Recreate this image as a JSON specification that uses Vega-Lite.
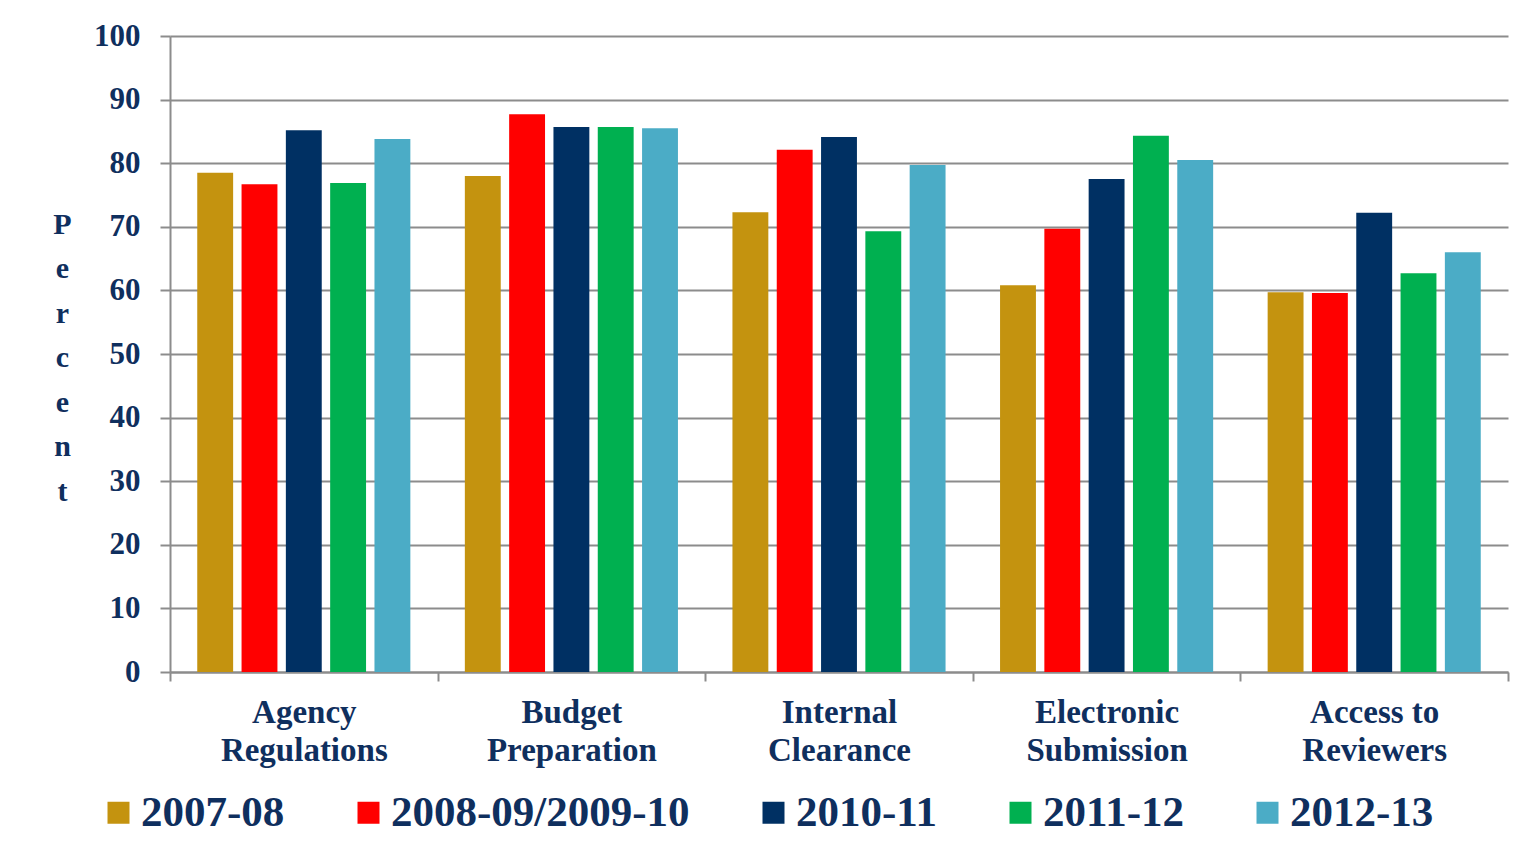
{
  "$schema": "https://vega.github.io/schema/vega-lite/v6.json",
  "width": 1338,
  "height": 636,
  "autosize": {"type": "none"},
  "padding": {"left": 170, "top": 36, "right": 19, "bottom": 190},
  "background": "white",
  "config": {
    "view": {"stroke": null},
    "font": "Liberation Serif"
  },
  "data": {
    "values": [
      {"category": "Agency Regulations", "year": "2007-08", "percent": 78.5},
      {"category": "Agency Regulations", "year": "2008-09/2009-10", "percent": 76.7},
      {"category": "Agency Regulations", "year": "2010-11", "percent": 85.2},
      {"category": "Agency Regulations", "year": "2011-12", "percent": 76.9},
      {"category": "Agency Regulations", "year": "2012-13", "percent": 83.8},
      {"category": "Budget Preparation", "year": "2007-08", "percent": 78.0},
      {"category": "Budget Preparation", "year": "2008-09/2009-10", "percent": 87.7},
      {"category": "Budget Preparation", "year": "2010-11", "percent": 85.7},
      {"category": "Budget Preparation", "year": "2011-12", "percent": 85.7},
      {"category": "Budget Preparation", "year": "2012-13", "percent": 85.5},
      {"category": "Internal Clearance", "year": "2007-08", "percent": 72.3},
      {"category": "Internal Clearance", "year": "2008-09/2009-10", "percent": 82.1},
      {"category": "Internal Clearance", "year": "2010-11", "percent": 84.1},
      {"category": "Internal Clearance", "year": "2011-12", "percent": 69.3},
      {"category": "Internal Clearance", "year": "2012-13", "percent": 79.7},
      {"category": "Electronic Submission", "year": "2007-08", "percent": 60.8},
      {"category": "Electronic Submission", "year": "2008-09/2009-10", "percent": 69.7},
      {"category": "Electronic Submission", "year": "2010-11", "percent": 77.5},
      {"category": "Electronic Submission", "year": "2011-12", "percent": 84.3},
      {"category": "Electronic Submission", "year": "2012-13", "percent": 80.5},
      {"category": "Access to Reviewers", "year": "2007-08", "percent": 59.7},
      {"category": "Access to Reviewers", "year": "2008-09/2009-10", "percent": 59.6},
      {"category": "Access to Reviewers", "year": "2010-11", "percent": 72.2},
      {"category": "Access to Reviewers", "year": "2011-12", "percent": 62.7},
      {"category": "Access to Reviewers", "year": "2012-13", "percent": 66.0}
    ]
  },
  "mark": {"type": "bar"},
  "encoding": {
    "x": {
      "field": "category",
      "type": "nominal",
      "sort": null,
      "scale": {"paddingInner": 0, "paddingOuter": 0},
      "axis": {
        "title": null,
        "labelAngle": 0,
        "labelExpr": "datum.value == null ? '' : (datum.value == 'Access to Reviewers' ? ['Access to', 'Reviewers'] : split(datum.value, ' '))",
        "labelFont": "Liberation Serif",
        "labelFontWeight": "bold",
        "labelFontSize": 33,
        "labelColor": "#0F2F5E",
        "labelLineHeight": 38,
        "labelPadding": 15,
        "labelBaseline": "top",
        "domainColor": "#8C8C8C",
        "domainWidth": 2,
        "tickColor": "#8C8C8C",
        "tickWidth": 2,
        "tickSize": 9,
        "tickBand": "extent",
        "grid": false
      }
    },
    "xOffset": {
      "field": "year",
      "type": "nominal",
      "sort": null,
      "scale": {"paddingInner": 0.19, "paddingOuter": 0.615}
    },
    "y": {
      "field": "percent",
      "type": "quantitative",
      "scale": {"domain": [0, 100]},
      "axis": {
        "values": [0, 10, 20, 30, 40, 50, 60, 70, 80, 90, 100],
        "title": ["P", "e", "r", "c", "e", "n", "t"],
        "titleAngle": 0,
        "titleFont": "Liberation Serif",
        "titleFontWeight": "bold",
        "titleFontSize": 30,
        "titleColor": "#0F2F5E",
        "titleLineHeight": 44.5,
        "titleAlign": "center",
        "titleBaseline": "middle",
        "titleX": -108,
        "titleY": 188,
        "labelFont": "Liberation Serif",
        "labelFontWeight": "bold",
        "labelFontSize": 31,
        "labelColor": "#0F2F5E",
        "labelPadding": 20,
        "domainColor": "#8C8C8C",
        "domainWidth": 2,
        "tickColor": "#8C8C8C",
        "tickWidth": 2,
        "tickSize": 10,
        "grid": true,
        "gridColor": "#8C8C8C",
        "gridWidth": 2
      }
    },
    "color": {
      "field": "year",
      "type": "nominal",
      "sort": null,
      "scale": {
        "domain": ["2007-08", "2008-09/2009-10", "2010-11", "2011-12", "2012-13"],
        "range": ["#C4930F", "#FF0000", "#003063", "#00B050", "#4BACC6"]
      },
      "legend": {
        "title": null,
        "orient": "none",
        "direction": "horizontal",
        "legendX": -73,
        "legendY": 755,
        "symbolType": "square",
        "symbolSize": 484,
        "symbolStrokeWidth": 0,
        "symbolOpacity": 1,
        "labelFont": "Liberation Serif",
        "labelFontWeight": "bold",
        "labelFontSize": 43,
        "labelColor": "#0F2F5E",
        "labelOffset": 1,
        "columnPadding": 62,
        "labelLimit": 0
      }
    }
  }
}
